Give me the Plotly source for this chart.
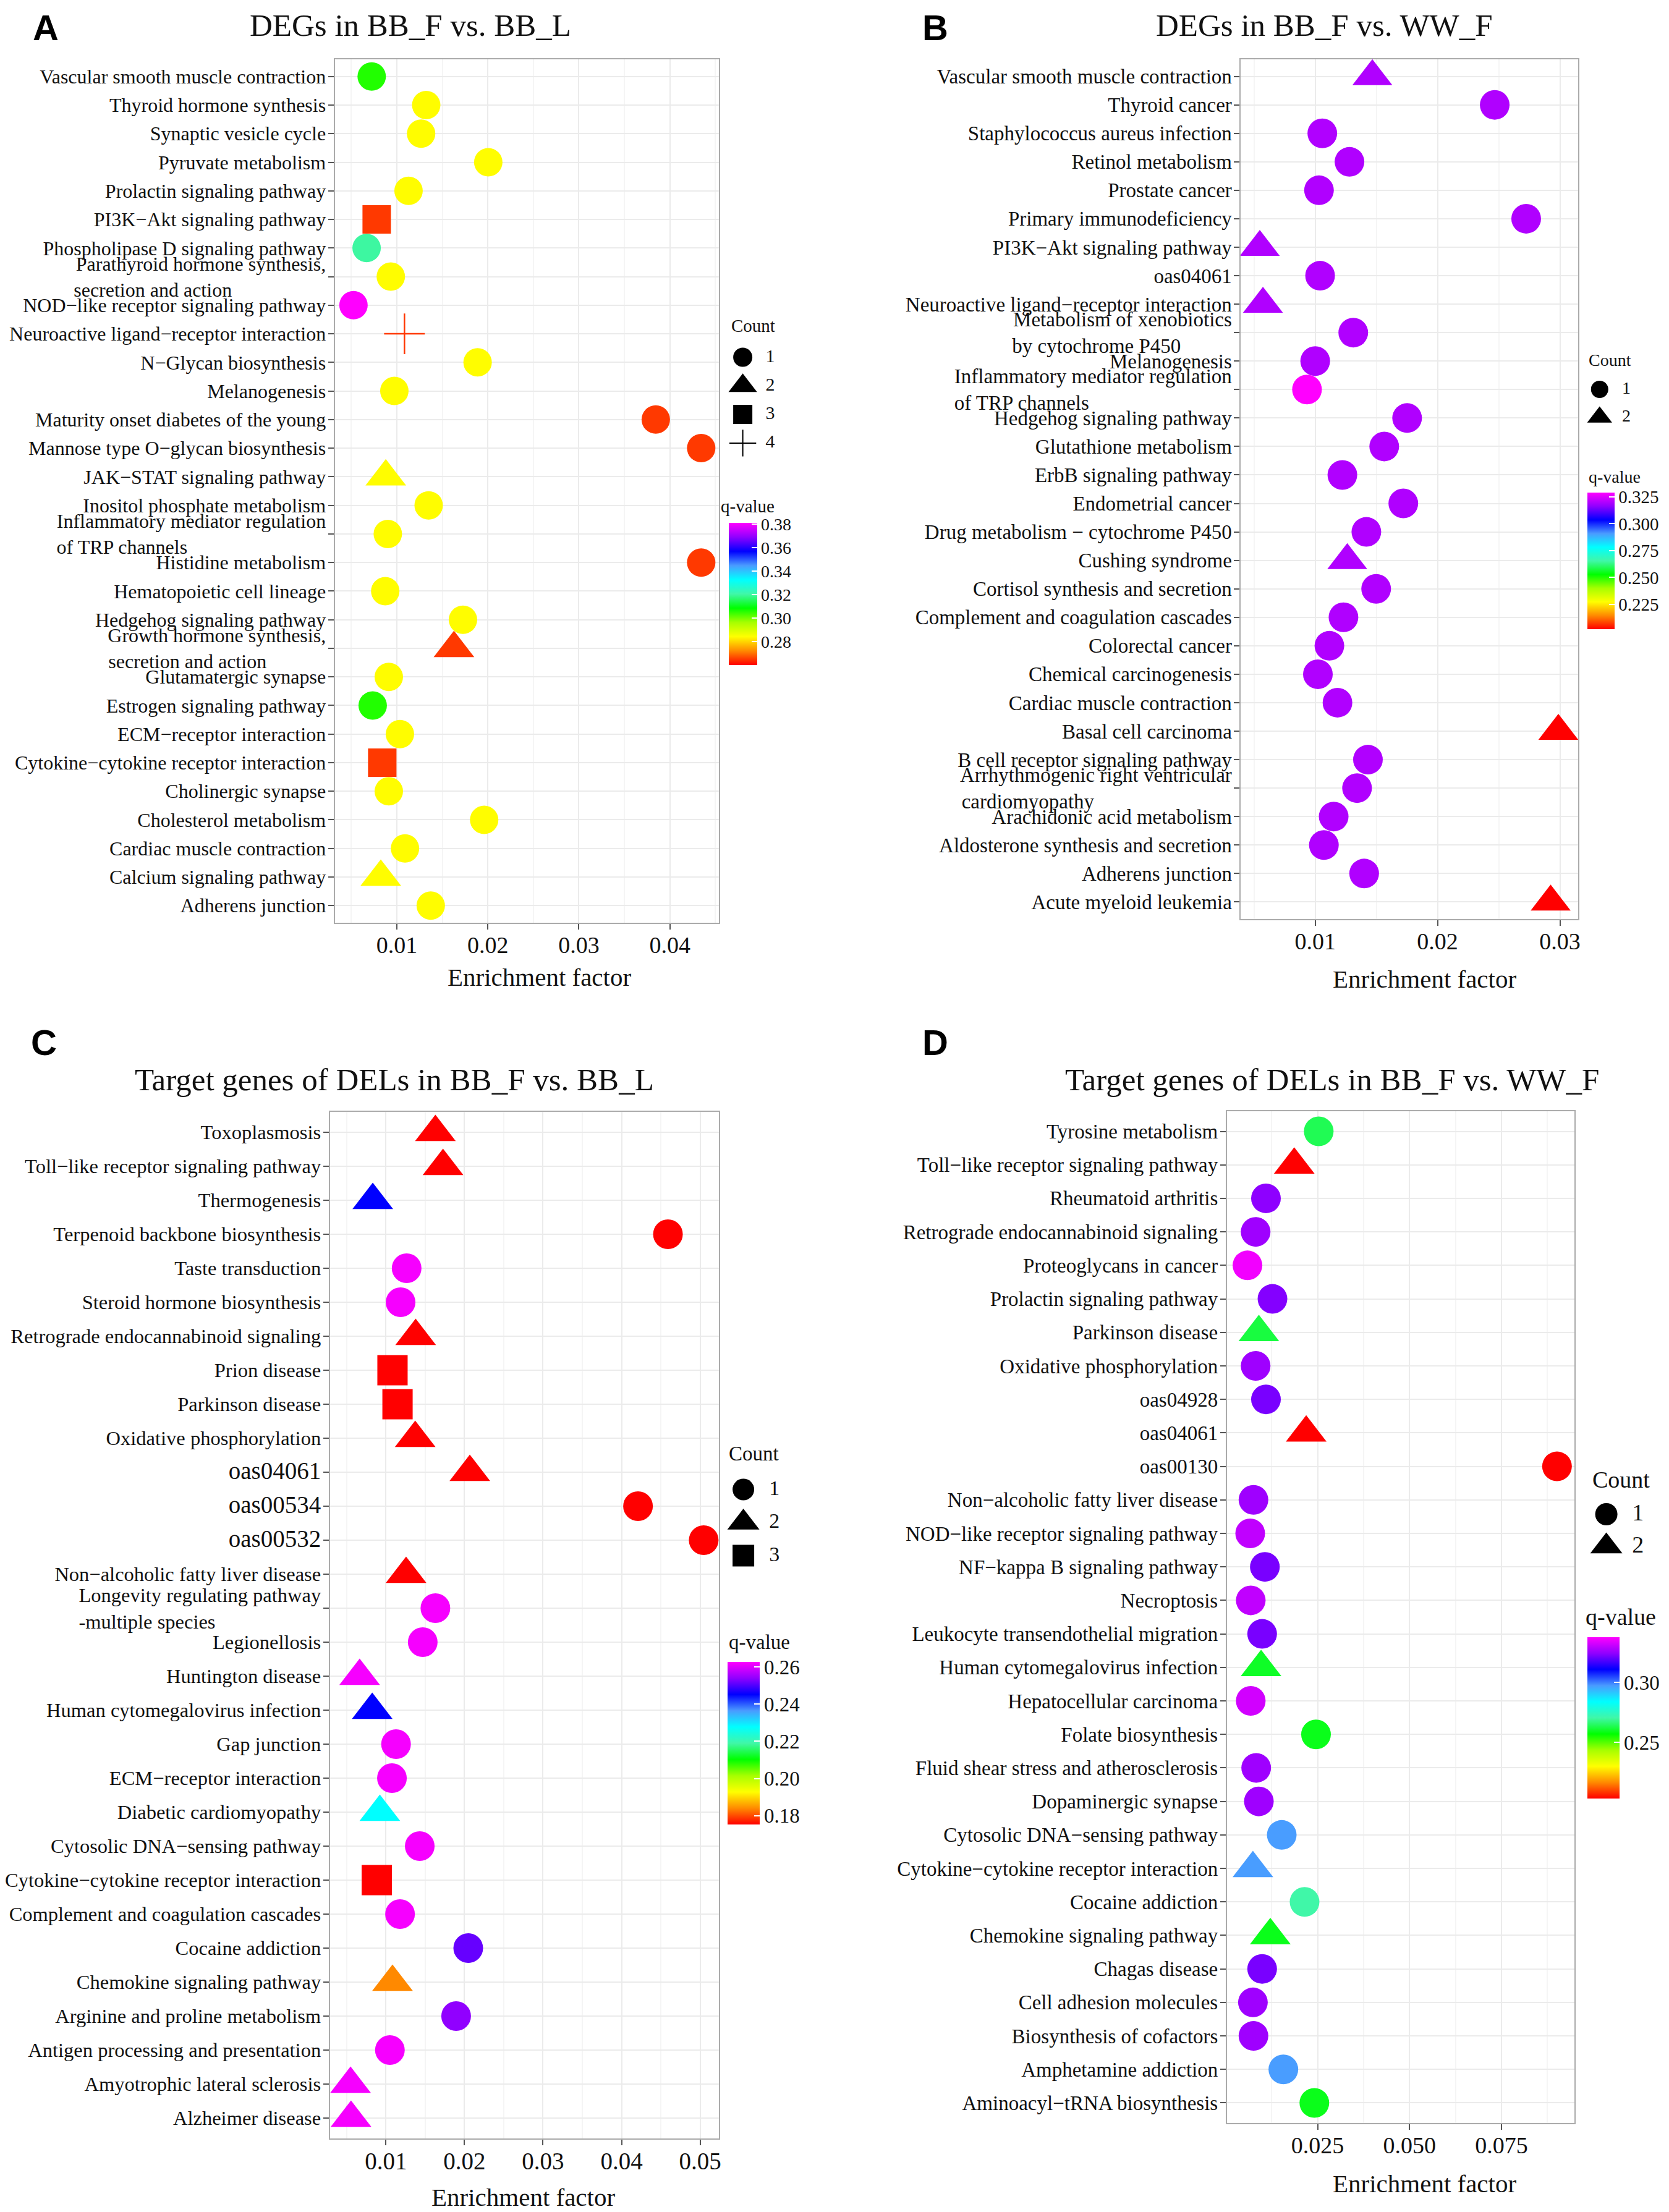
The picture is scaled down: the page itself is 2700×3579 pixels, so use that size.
import plotly.graph_objects as go

W, H = 2700, 3579
SERIF = "Liberation Serif"
SANS = "Liberation Sans"
NB = "\u00a0"

# ---------------- Panel A data ----------------
A_terms = [
    "Vascular smooth muscle contraction", "Thyroid hormone synthesis", "Synaptic vesicle cycle",
    "Pyruvate metabolism", "Prolactin signaling pathway", "PI3K−Akt signaling pathway",
    "Phospholipase D signaling pathway",
    "Parathyroid hormone synthesis,<br>secretion and action" + NB * 19,
    "NOD−like receptor signaling pathway", "Neuroactive ligand−receptor interaction",
    "N−Glycan biosynthesis", "Melanogenesis", "Maturity onset diabetes of the young",
    "Mannose type O−glycan biosynthesis", "JAK−STAT signaling pathway",
    "Inositol phosphate metabolism",
    "Inflammatory mediator regulation<br>of TRP channels" + NB * 28,
    "Histidine metabolism", "Hematopoietic cell lineage", "Hedgehog signaling pathway",
    "Growth hormone synthesis,<br>secretion and action" + NB * 12,
    "Glutamatergic synapse", "Estrogen signaling pathway", "ECM−receptor interaction",
    "Cytokine−cytokine receptor interaction", "Cholinergic synapse", "Cholesterol metabolism",
    "Cardiac muscle contraction", "Calcium signaling pathway", "Adherens junction",
]
A_enrich = [0.00723, 0.01322, 0.01266, 0.02004, 0.01128, 0.00778, 0.00667, 0.00933, 0.00523, 0.01083,
            0.01887, 0.00972, 0.03845, 0.04344, 0.00878, 0.01349, 0.00900, 0.04344, 0.00872, 0.01726,
            0.01627, 0.00911, 0.00734, 0.01033, 0.00839, 0.00911, 0.01959, 0.01089, 0.00823, 0.01372]
A_count = [1, 1, 1, 1, 1, 3, 1, 1, 1, 4, 1, 1, 1, 1, 2, 1, 1, 1, 1, 1, 2, 1, 1, 1, 3, 1, 1, 1, 2, 1]
A_q = [0.306, 0.284, 0.284, 0.284, 0.284, 0.265, 0.320, 0.284, 0.381, 0.265,
       0.284, 0.284, 0.265, 0.265, 0.284, 0.284, 0.284, 0.265, 0.284, 0.284,
       0.265, 0.284, 0.306, 0.284, 0.265, 0.284, 0.284, 0.284, 0.284, 0.284]
A_qticks = [0.28, 0.30, 0.32, 0.34, 0.36, 0.38]

# ---------------- Panel B data ----------------
B_terms = [
    "Vascular smooth muscle contraction", "Thyroid cancer", "Staphylococcus aureus infection",
    "Retinol metabolism", "Prostate cancer", "Primary immunodeficiency", "PI3K−Akt signaling pathway",
    "oas04061", "Neuroactive ligand−receptor interaction",
    "Metabolism of xenobiotics<br>by cytochrome P450" + NB * 10,
    "Melanogenesis",
    "Inflammatory mediator regulation<br>of TRP channels" + NB * 28,
    "Hedgehog signaling pathway", "Glutathione metabolism", "ErbB signaling pathway",
    "Endometrial cancer", "Drug metabolism − cytochrome P450", "Cushing syndrome",
    "Cortisol synthesis and secretion", "Complement and coagulation cascades", "Colorectal cancer",
    "Chemical carcinogenesis", "Cardiac muscle contraction", "Basal cell carcinoma",
    "B cell receptor signaling pathway",
    "Arrhythmogenic right ventricular<br>cardiomyopathy" + NB * 27,
    "Arachidonic acid metabolism", "Aldosterone synthesis and secretion", "Adherens junction",
    "Acute myeloid leukemia",
]
B_enrich = [0.01467, 0.02467, 0.01058, 0.01280, 0.01031, 0.02724, 0.00547, 0.01040, 0.00573, 0.01311,
            0.01000, 0.00933, 0.01751, 0.01564, 0.01222, 0.01720, 0.01418, 0.01262, 0.01498, 0.01231,
            0.01116, 0.01022, 0.01182, 0.02987, 0.01431, 0.01342, 0.01151, 0.01071, 0.01400, 0.02924]
B_count = [2, 1, 1, 1, 1, 1, 2, 1, 2, 1, 1, 1, 1, 1, 1, 1, 1, 2, 1, 1, 1, 1, 1, 2, 1, 1, 1, 1, 1, 2]
B_q = [0.320, 0.320, 0.320, 0.320, 0.320, 0.320, 0.320, 0.320, 0.320, 0.320,
       0.320, 0.329, 0.320, 0.320, 0.320, 0.320, 0.320, 0.320, 0.320, 0.320,
       0.320, 0.320, 0.320, 0.202, 0.320, 0.320, 0.320, 0.320, 0.320, 0.202]
B_qticks = [0.225, 0.250, 0.275, 0.300, 0.325]

# ---------------- Panel C data ----------------
C_terms = [
    "Toxoplasmosis", "Toll−like receptor signaling pathway", "Thermogenesis",
    "Terpenoid backbone biosynthesis", "Taste transduction", "Steroid hormone biosynthesis",
    "Retrograde endocannabinoid signaling", "Prion disease", "Parkinson disease",
    "Oxidative phosphorylation", "oas04061", "oas00534", "oas00532",
    "Non−alcoholic fatty liver disease",
    "Longevity regulating pathway<br>-multiple species" + NB * 21,
    "Legionellosis", "Huntington disease", "Human cytomegalovirus infection", "Gap junction",
    "ECM−receptor interaction", "Diabetic cardiomyopathy", "Cytosolic DNA−sensing pathway",
    "Cytokine−cytokine receptor interaction", "Complement and coagulation cascades",
    "Cocaine addiction", "Chemokine signaling pathway", "Arginine and proline metabolism",
    "Antigen processing and presentation", "Amyotrophic lateral sclerosis", "Alzheimer disease",
]
C_enrich = [0.01630, 0.01727, 0.00833, 0.04590, 0.01264, 0.01187, 0.01379, 0.01084, 0.01148, 0.01373,
            0.02068, 0.04209, 0.05045, 0.01257, 0.01630, 0.01469, 0.00666, 0.00826, 0.01129, 0.01077,
            0.00923, 0.01431, 0.00884, 0.01180, 0.02048, 0.01084, 0.01894, 0.01051, 0.00550, 0.00556]
C_count = [2, 2, 2, 1, 1, 1, 2, 3, 3, 2, 2, 1, 1, 2, 1, 1, 2, 2, 1, 1, 2, 1, 3, 1, 1, 2, 1, 1, 2, 2]
C_q = [0.1753, 0.1753, 0.2452, 0.1753, 0.2620, 0.2620, 0.1753, 0.1753, 0.1753, 0.1753,
       0.1753, 0.1753, 0.1753, 0.1753, 0.2620, 0.2620, 0.2620, 0.2452, 0.2620, 0.2620,
       0.2277, 0.2620, 0.1753, 0.2620, 0.2514, 0.1840, 0.2540, 0.2620, 0.2620, 0.2620]
C_qticks = [0.18, 0.20, 0.22, 0.24, 0.26]
C_big_labels = ["oas04061", "oas00534", "oas00532"]

# ---------------- Panel D data ----------------
D_terms = [
    "Tyrosine metabolism", "Toll−like receptor signaling pathway", "Rheumatoid arthritis",
    "Retrograde endocannabinoid signaling", "Proteoglycans in cancer", "Prolactin signaling pathway",
    "Parkinson disease", "Oxidative phosphorylation", "oas04928", "oas04061", "oas00130",
    "Non−alcoholic fatty liver disease", "NOD−like receptor signaling pathway",
    "NF−kappa B signaling pathway", "Necroptosis", "Leukocyte transendothelial migration",
    "Human cytomegalovirus infection", "Hepatocellular carcinoma", "Folate biosynthesis",
    "Fluid shear stress and atherosclerosis", "Dopaminergic synapse", "Cytosolic DNA−sensing pathway",
    "Cytokine−cytokine receptor interaction", "Cocaine addiction", "Chemokine signaling pathway",
    "Chagas disease", "Cell adhesion molecules", "Biosynthesis of cofactors", "Amphetamine addiction",
    "Aminoacyl−tRNA biosynthesis",
]
D_enrich = [0.02530, 0.01864, 0.01095, 0.00814, 0.00592, 0.01272, 0.00902, 0.00814, 0.01095, 0.02189,
            0.09010, 0.00755, 0.00666, 0.01065, 0.00681, 0.00991, 0.00962, 0.00681, 0.02456, 0.00829,
            0.00902, 0.01524, 0.00740, 0.02145, 0.01213, 0.00991, 0.00740, 0.00755, 0.01568, 0.02411]
D_count = [1, 2, 1, 1, 1, 1, 2, 1, 1, 2, 1, 1, 1, 1, 1, 1, 2, 1, 1, 1, 1, 1, 2, 1, 2, 1, 1, 1, 1, 1]
D_q = [0.2636, 0.2031, 0.3240, 0.3260, 0.3360, 0.3230, 0.2620, 0.3260, 0.3220, 0.2031,
       0.2031, 0.3260, 0.3300, 0.3220, 0.3300, 0.3220, 0.2600, 0.3320, 0.2590, 0.3260,
       0.3260, 0.2970, 0.2970, 0.2704, 0.2590, 0.3220, 0.3260, 0.3260, 0.2970, 0.2590]
D_qticks = [0.25, 0.30]

# ---------------- styling ----------------
COUNT_SYMBOLS = {1: "circle", 2: "triangle-up", 3: "square", 4: "cross-thin"}
RAINBOW = [[0.0, "#FF0000"], [0.1, "#FF8A00"], [0.2, "#FFFF00"], [0.3, "#A6FF00"],
           [0.4, "#00FF00"], [0.5, "#40F7A8"], [0.6, "#00FFFF"], [0.7, "#4A9BFF"],
           [0.8, "#0000FF"], [0.9, "#9000FF"], [1.0, "#FF00FF"]]

DY = -9  # global vertical correction (px)

panels = [
    dict(terms=A_terms, enrich=A_enrich, count=A_count, q=A_q, qticks=A_qticks, qfmt=".2f", dx=-12,
         box=(516, 97, 1147, 1494), xrange=(0.00317, 0.0454), dtick=0.01, xfmt=".2f",
         title="DEGs in BB_F vs. BB_L", title_xy=(640, 42), letter="A", letter_xy=(41, 46),
         xtitle_xy=(852, 1582), ytick_size=32, xtick_size=38,
         sizes={1: 46, 2: 57, 3: 46, 4: 47},
         cb=dict(left=1163, top=847, thick=46, len=230, cmin=0.260, cmax=0.381, font=28),
         qtitle_xy=(1148, 820), qtitle_size=29,
         leg=dict(y0=579, sp=46.3, mx=1186, lx=1231, sizes={1: 31, 2: 40, 3: 31, 4: 31},
                  font=30, title_xy=(1165, 528), tfont=29)),
    dict(terms=B_terms, enrich=B_enrich, count=B_count, q=B_q, qticks=B_qticks, qfmt=".3f", dx=-7,
         box=(1999, 97, 2553, 1488), xrange=(0.00393, 0.0315), dtick=0.01, xfmt=".2f",
         title="DEGs in BB_F vs. WW_F", title_xy=(2136, 42), letter="B", letter_xy=(1497, 46),
         xtitle_xy=(2300, 1585), ytick_size=33, xtick_size=38,
         sizes={1: 48, 2: 56, 3: 46, 4: 47},
         cb=dict(left=2568, top=798, thick=44, len=221, cmin=0.202, cmax=0.329, font=29),
         qtitle_xy=(2568, 772), qtitle_size=28,
         leg=dict(y0=631, sp=45, mx=2588, lx=2632, sizes={1: 28, 2: 35, 3: 28, 4: 28},
                  font=28, title_xy=(2568, 583), tfont=28)),
    dict(terms=C_terms, enrich=C_enrich, count=C_count, q=C_q, qticks=C_qticks, qfmt=".2f", dx=-12,
         box=(508, 1800, 1147, 3461), xrange=(0.00287, 0.0524), dtick=0.01, xfmt=".2f",
         title="Target genes of DELs in BB_F vs. BB_L", title_xy=(614, 1748), letter="C",
         letter_xy=(38, 1688), xtitle_xy=(826, 3556), ytick_size=32.5, xtick_size=39,
         sizes={1: 48, 2: 57, 3: 49, 4: 47},
         cb=dict(left=1161, top=2690, thick=52, len=263, cmin=0.1753, cmax=0.2627, font=33),
         qtitle_xy=(1161, 2658), qtitle_size=33,
         leg=dict(y0=2411, sp=53.5, mx=1187, lx=1238, sizes={1: 35, 2: 45, 3: 35, 4: 35},
                  font=34, title_xy=(1161, 2353), tfont=33)),
    dict(terms=D_terms, enrich=D_enrich, count=D_count, q=D_q, qticks=D_qticks, qfmt=".2f", dx=-7,
         box=(1976, 1799, 2547, 3436), xrange=(0.00033, 0.0949), dtick=0.025, xfmt=".3f",
         title="Target genes of DELs in BB_F vs. WW_F", title_xy=(2149, 1748), letter="D",
         letter_xy=(1497, 1688), xtitle_xy=(2300, 3534), ytick_size=33, xtick_size=38,
         sizes={1: 48, 2: 57, 3: 46, 4: 47},
         cb=dict(left=2568, top=2650, thick=52, len=261, cmin=0.2031, cmax=0.3376, font=33),
         qtitle_xy=(2563, 2617), qtitle_size=38,
         leg=dict(y0=2451, sp=52, mx=2599, lx=2651, sizes={1: 36, 2: 45, 3: 36, 4: 36},
                  font=38, title_xy=(2574, 2395), tfont=38)),
]

fig = go.Figure()
layout = dict(width=W, height=H, margin=dict(l=0, r=0, t=0, b=0), paper_bgcolor="white",
              plot_bgcolor="white", showlegend=False, font=dict(family=SERIF, color="#111111"))
annotations = []

for i, p in enumerate(panels):
    dx = p["dx"]

    def fx(px):
        return (px + dx) / W

    def fy(py):
        return 1 - (py + DY) / H

    k = i + 1
    xn, yn = ("x", "y") if k == 1 else (f"x{k}", f"y{k}")
    xkey, ykey = ("xaxis", "yaxis") if k == 1 else (f"xaxis{k}", f"yaxis{k}")
    cax = "coloraxis" if k == 1 else f"coloraxis{k}"
    l, t, r, b = p["box"]
    n = len(p["terms"])

    # main scatter, one trace per Count value
    for c in sorted(set(p["count"])):
        idx = [j for j, v in enumerate(p["count"]) if v == c]
        xs = [p["enrich"][j] for j in idx]
        ys = [p["terms"][j] for j in idx]
        qs = [p["q"][j] for j in idx]
        sym = COUNT_SYMBOLS[c]
        if sym == "cross-thin":
            marker = dict(symbol=sym, size=p["sizes"][c],
                          line=dict(color=qs, coloraxis=cax, width=2.5), color=qs, coloraxis=cax)
        else:
            marker = dict(symbol=sym, size=p["sizes"][c], color=qs, coloraxis=cax,
                          line=dict(width=0))
        fig.add_trace(go.Scatter(x=xs, y=ys, mode="markers", marker=marker,
                                 xaxis=xn, yaxis=yn, cliponaxis=False, hoverinfo="x+y"))

    ticktext = []
    for term in p["terms"]:
        if i == 2 and term in C_big_labels:
            ticktext.append(f'<span style="font-size:39px">{term}</span>')
        else:
            ticktext.append(term)

    layout[xkey] = dict(
        domain=[fx(l), fx(r)], range=list(p["xrange"]), anchor=yn, tick0=0, dtick=p["dtick"],
        tickformat=p["xfmt"], showgrid=True, gridcolor="#EBEBEB", gridwidth=2,
        minor=dict(tick0=0, dtick=p["dtick"] / 2, showgrid=True, gridcolor="#F5F5F5", gridwidth=1.5),
        showline=True, mirror=True, linecolor="#ABABAB", linewidth=2, ticks="outside", ticklen=9,
        tickwidth=2, tickcolor="#555555", zeroline=False, ticklabelstandoff=-8,
        tickfont=dict(family=SERIF, size=p["xtick_size"], color="#111111"))
    layout[ykey] = dict(
        domain=[fy(b), fy(t)], type="category", categoryorder="array", categoryarray=p["terms"],
        range=[n - 1 + 0.6, -0.6], anchor=xn, tickmode="array", tickvals=p["terms"],
        ticktext=ticktext, showgrid=True, gridcolor="#EBEBEB", gridwidth=2, showline=True,
        mirror=True, linecolor="#ABABAB", linewidth=2, ticks="outside", ticklen=9, tickwidth=2,
        tickcolor="#555555", zeroline=False, ticklabelstandoff=-3,
        tickfont=dict(family=SERIF, size=p["ytick_size"], color="#111111"))

    cb = p["cb"]
    layout[cax] = dict(
        colorscale=RAINBOW, cmin=cb["cmin"], cmax=cb["cmax"],
        colorbar=dict(x=fx(cb["left"]), xanchor="left", xpad=0, y=fy(cb["top"]), yanchor="top",
                      ypad=0, len=cb["len"], lenmode="pixels", thickness=cb["thick"],
                      thicknessmode="pixels", outlinewidth=0, ticks="inside", ticklen=9,
                      tickwidth=2, tickcolor="white", tickmode="array", tickvals=p["qticks"],
                      tickformat=p["qfmt"],
                      tickfont=dict(family=SERIF, size=cb["font"], color="#111111")))

    # legend for Count (drawn on its own hidden axis)
    lg = p["leg"]
    counts = sorted(set(p["count"]))
    lk = k + 4
    lxn, lyn = f"x{lk}", f"y{lk}"
    ntop = lg["y0"] - lg["sp"] / 2
    nbot = lg["y0"] + (len(counts) - 1) * lg["sp"] + lg["sp"] / 2
    layout[f"xaxis{lk}"] = dict(domain=[fx(lg["mx"]), fx(lg["lx"])], range=[0, 1], anchor=lyn,
                                visible=False, fixedrange=True)
    layout[f"yaxis{lk}"] = dict(domain=[fy(nbot), fy(ntop)],
                                range=[max(counts) + 0.5, min(counts) - 0.5], anchor=lxn,
                                visible=False, fixedrange=True)
    for c in counts:
        sym = COUNT_SYMBOLS[c]
        if sym == "cross-thin":
            mk = dict(symbol=sym, size=lg["sizes"][c], color="black", line=dict(color="black", width=2))
        else:
            mk = dict(symbol=sym, size=lg["sizes"][c], color="black", line=dict(width=0))
        fig.add_trace(go.Scatter(x=[0], y=[c], mode="markers", marker=mk, xaxis=lxn, yaxis=lyn,
                                 cliponaxis=False, hoverinfo="skip"))
    fig.add_trace(go.Scatter(x=[1] * len(counts), y=counts, mode="text", text=[str(c) for c in counts],
                             textposition="middle center",
                             textfont=dict(family=SERIF, size=lg["font"], color="#111111"),
                             xaxis=lxn, yaxis=lyn, cliponaxis=False, hoverinfo="skip"))

    # texts
    annotations.append(dict(text=p["title"], x=fx(p["title_xy"][0]), y=fy(p["title_xy"][1]),
                            xref="paper", yref="paper", showarrow=False, xanchor="center",
                            yanchor="middle", font=dict(family=SERIF, size=51, color="#111111")))
    annotations.append(dict(text=f"<b>{p['letter']}</b>", x=fx(p["letter_xy"][0]), y=fy(p["letter_xy"][1]),
                            xref="paper", yref="paper", showarrow=False, xanchor="center",
                            yanchor="middle", font=dict(family=SANS, size=58, color="black")))
    annotations.append(dict(text="Enrichment factor", x=fx(p["xtitle_xy"][0]), y=fy(p["xtitle_xy"][1]),
                            xref="paper", yref="paper", showarrow=False, xanchor="center",
                            yanchor="middle", font=dict(family=SERIF, size=41, color="#111111")))
    annotations.append(dict(text="Count", x=fx(lg["title_xy"][0]), y=fy(lg["title_xy"][1]),
                            xref="paper", yref="paper", showarrow=False, xanchor="left",
                            yanchor="middle", font=dict(family=SERIF, size=lg["tfont"], color="#111111")))
    annotations.append(dict(text="q-value", x=fx(p["qtitle_xy"][0]), y=fy(p["qtitle_xy"][1]),
                            xref="paper", yref="paper", showarrow=False, xanchor="left",
                            yanchor="middle", font=dict(family=SERIF, size=p["qtitle_size"], color="#111111")))

layout["annotations"] = annotations
fig.update_layout(**layout)
fig.write_html("out.html")
